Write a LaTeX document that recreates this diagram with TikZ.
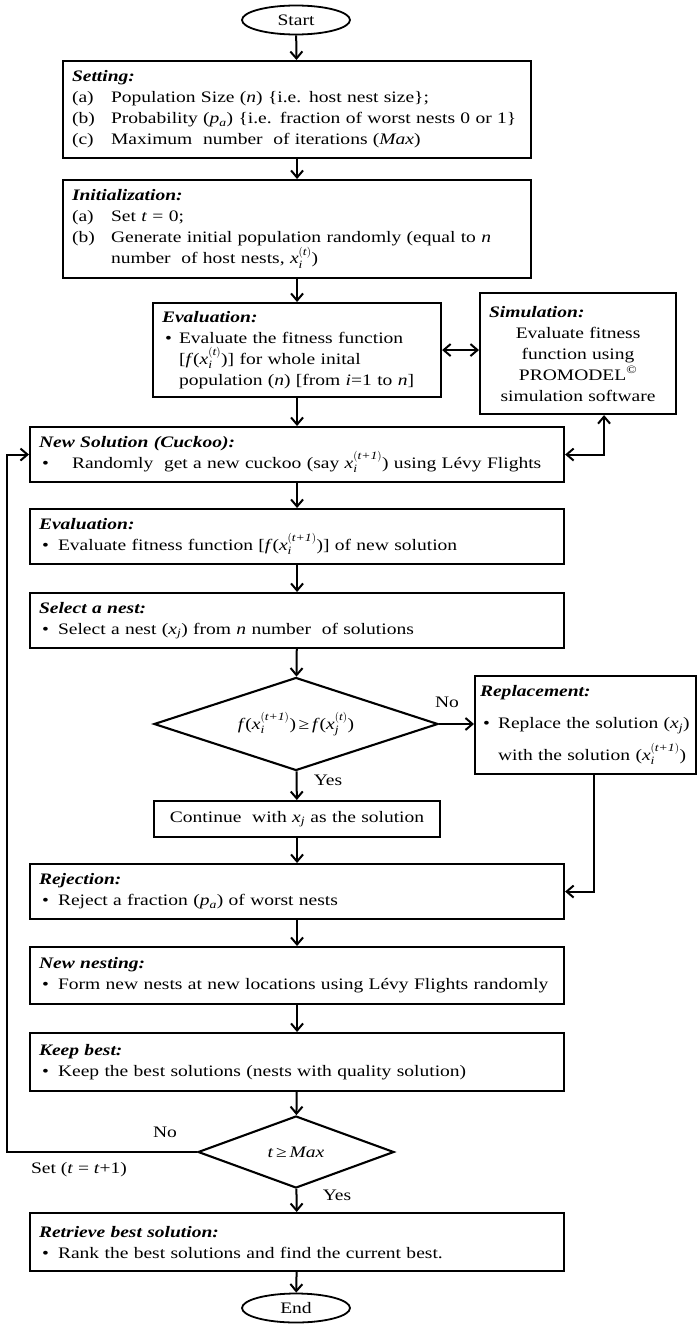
\documentclass[tikz,border=0pt]{standalone}
\usepackage{amsmath}
\usepackage{fontspec}
\setmainfont{Liberation Serif}[FakeStretch=1.22]
\usetikzlibrary{shapes.geometric,arrows.meta}

\newcommand{\hd}[1]{\textbf{\textit{#1}}}
\newcommand{\xsub}[3]{\textit{#1}$_{\textit{#2}}^{(\textit{#3})}$}
\newcommand{\litem}[2]{\par\noindent\hangindent=39pt\hangafter=1\makebox[39pt][l]{#1}#2\par}
\newcommand{\bitem}[2][19pt]{\par\noindent\hangindent=#1\hangafter=1\makebox[#1][l]{\hspace{3pt}\textbullet}#2\par}

\tikzset{
  box/.style={draw, line width=2.1pt, anchor=north west, align=left, inner xsep=9pt, inner ysep=2pt,
    font=\fontsize{16}{21}\selectfont, execute at begin node=\setlength{\parindent}{0pt}},
  term/.style={draw, line width=1.8pt, ellipse, minimum width=108pt, minimum height=29pt, inner sep=0pt,
    font=\fontsize{16}{21}\selectfont},
  decision/.style={draw, line width=2.1pt, diamond, aspect=3, inner sep=0pt, font=\fontsize{16}{21}\selectfont},
  flow/.style={line width=2pt, -{Straight Barb[length=7pt,width=12pt]}},
  dflow/.style={line width=2pt, {Straight Barb[length=7pt,width=12pt]}-{Straight Barb[length=7pt,width=12pt]}},
  lbl/.style={font=\fontsize{16}{21}\selectfont, inner sep=0pt}
}

\begin{document}
\begin{tikzpicture}[x=1pt,y=-1pt]
\useasboundingbox (0,0) rectangle (697,1324);

% main column
\node[term] (start) at (296,20) {Start};

\node[box, text width=450pt, minimum height=97pt] (setting) at (62,60) {%
\hd{Setting:}
\litem{(a)}{Population Size (\textit{n}) \{i.e. host nest size\};}
\litem{(b)}{Probability (\textit{p}$_{\textit{a}}$) \{i.e. fraction of worst nests 0 or 1\}}
\litem{(c)}{Maximum \ number \ of iterations (\textit{Max})}};

\node[box, text width=450pt, minimum height=98pt] (init) at (62,179) {%
\hd{Initialization:}
\litem{(a)}{Set \textit{t} = 0;}
\litem{(b)}{Generate initial population randomly (equal to \textit{n}\newline number \ of host nests, \xsub{x}{i}{t})}};

\node[box, text width=270pt, minimum height=94pt] (eval) at (152,302) {%
\hd{Evaluation:}
\bitem[17pt]{Evaluate the fitness function\newline [\textit{f}(\xsub{x}{i}{t})] for whole inital\newline population (\textit{n}) [from \textit{i}=1 to \textit{n}]}};

\node[box, align=center, text width=178pt, minimum height=121pt] (sim) at (479,292) {%
\makebox[178pt][l]{\hd{Simulation:}}\\
Evaluate fitness\\ function using\\ PROMODEL\textsuperscript{\textcopyright}\\ simulation software};

\node[box, text width=516pt, minimum height=55pt] (newsol) at (29,426) {%
\hd{New Solution (Cuckoo):}
\bitem[33pt]{Randomly \ get a new cuckoo (say \xsub{x}{i}{t+1}) using Lévy Flights}};

\node[box, text width=516pt, minimum height=55pt] (eval2) at (29,508) {%
\hd{Evaluation:}
\bitem{Evaluate fitness function [\textit{f}(\xsub{x}{i}{t+1})] of new solution}};

\node[box, text width=516pt, minimum height=55pt] (select) at (29,592) {%
\hd{Select a nest:}
\bitem{Select a nest (\textit{x}$_{\textit{j}}$) from \textit{n} number \ of solutions}};

\node[decision, minimum width=284pt, minimum height=93pt] (dia1) at (296,724)
  {\textit{f}(\xsub{x}{i}{t+1})\,≥\,\textit{f}(\xsub{x}{j}{t})};

\node[box, inner xsep=5pt, text width=211pt, minimum height=98pt, font=\fontsize{16}{32}\selectfont] (repl) at (474,675) {%
\hd{Replacement:}
\bitem[18pt]{Replace the solution (\textit{x}$_{\textit{j}}$)\newline with the solution (\xsub{x}{i}{t+1})}};

\node[box, align=center, text width=268pt, minimum height=36pt] (cont) at (153,800)
  {Continue \ with \textit{x}$_{\textit{j}}$ as the solution};

\node[box, text width=516pt, minimum height=55pt] (rej) at (29,863) {%
\hd{Rejection:}
\bitem{Reject a fraction (\textit{p}$_{\textit{a}}$) of worst nests}};

\node[box, text width=516pt, minimum height=57pt] (nest) at (29,946) {%
\hd{New nesting:}
\bitem{Form new nests at new locations using Lévy Flights randomly}};

\node[box, text width=516pt, minimum height=58pt] (keep) at (29,1032) {%
\hd{Keep best:}
\bitem{Keep the best solutions (nests with quality solution)}};

\node[decision, aspect=2.7, minimum width=196pt, minimum height=72pt] (dia2) at (296,1152)
  {\textit{t}\,≥\,\textit{Max}};

\node[box, text width=516pt, minimum height=58pt] (retr) at (29,1212) {%
\hd{Retrieve best solution:}
\bitem{Rank the best solutions and find the current best.}};

\node[term] (end) at (296,1308) {End};

% labels
\node[lbl] (no1) at (447,702) {No};
\node[lbl] (yes1) at (328,780) {Yes};
\node[lbl] (no2) at (165,1132) {No};
\node[lbl] (setinc) at (79,1170) {Set (\textit{t} = \textit{t}+1)};
\node[lbl] (yes2) at (337,1195) {Yes};

\coordinate (loopc) at (7,1152);

% connectors
\draw[flow] (start) -- (setting);
\draw[flow] (setting) -- (init);
\draw[flow] (init) -- (eval);
\draw[dflow] (eval.east) -- (eval.east -| sim.west);
\draw[flow] (eval) -- (newsol);
\draw[dflow] (newsol.east) -| ([xshift=26pt]sim.south);
\draw[flow] (newsol) -- (eval2);
\draw[flow] (eval2) -- (select);
\draw[flow] (select) -- (dia1);
\draw[flow] (dia1.east) -- (repl.west |- dia1.east);
\draw[flow] (dia1) -- (cont);
\draw[flow] ([xshift=8pt]repl.south) |- (rej.east);
\draw[flow] (cont) -- (rej);
\draw[flow] (rej) -- (nest);
\draw[flow] (nest) -- (keep);
\draw[flow] (keep) -- (dia2);
\draw[flow] (dia2) -- (retr);
\draw[flow] (retr) -- (end);
\draw[flow] (dia2.west) -- (loopc) |- (newsol.west);
\end{tikzpicture}
\end{document}
